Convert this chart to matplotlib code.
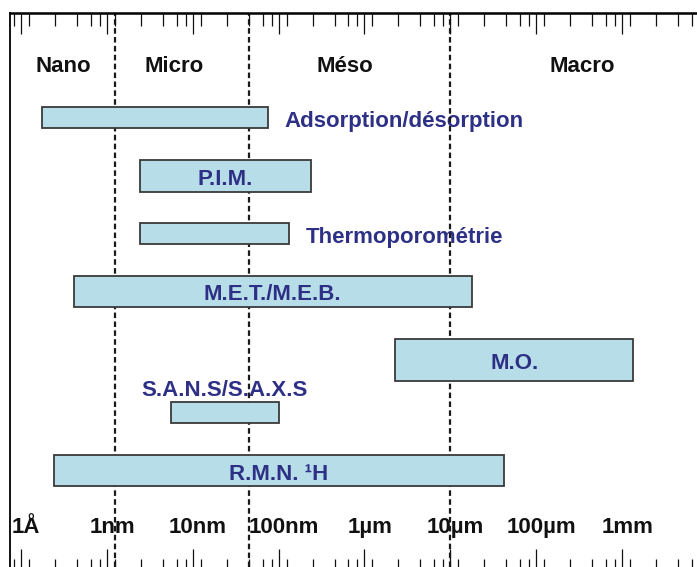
import numpy as np
import matplotlib
matplotlib.use('Agg')
import matplotlib.pyplot as plt

plt.rcParams['font.family'] = ['Liberation Sans', 'DejaVu Sans']
plt.rcParams['font.weight'] = 'bold'

# techniques: domaine de taille (m)
techniques = ['Adsorption/désorption', 'P.I.M.', 'Thermoporométrie', 'M.E.T./M.E.B.',
              'M.O.', 'S.A.N.S/S.A.X.S', 'R.M.N. ¹H']
x_min = [1.76e-10, 2.4e-9, 2.4e-9, 4.1e-10, 2.3e-6, 5.6e-9, 2.4e-10]
x_max = [7.5e-8, 2.4e-7, 1.32e-7, 1.79e-5, 1.34e-3, 1.01e-7, 4.2e-5]

# limites nano / micro / méso / macro
limites = [1.25e-9, 4.5e-8, 1.0e-5]
domaines = ['Nano', 'Micro', 'Méso', 'Macro']
domaines_x = [3.1e-10, 6.05e-9, 5.94e-7, 3.42e-4]

# règle logarithmique
decades = 10.0 ** np.arange(-10, -2)
decade_labels = ['1Å', '1nm', '10nm', '100nm', '1µm', '10µm', '100µm', '1mm']

# mise en page (pixels depuis le haut)
row_y = [117.5, 176, 233.5, 291.5, 360, 412.5, 470.5]
row_h = [21, 32, 21, 31, 42, 21, 31]
label_pos = ['right', 'in', 'right', 'in', 'in', 'above', 'in']

bar_color = '#b7dde8'
text_color = '#2d3085'
fs = 16

W, H = 697, 567
px_dec = 85.86
xl = 1e-10 * 10 ** (-11 / px_dec)
xr = 1e-10 * 10 ** ((W - 21) / px_dec)

fig = plt.figure(figsize=(W / 100, H / 100), dpi=100)
ax = fig.add_axes([10 / W, 0, (W - 10) / W, (H - 12.5) / H])
ax.set_xscale('log')
ax.set_ylim(H, 12.5)

# lignes pointillées
for x in limites:
    ax.axvline(x, color='#1a1a1a', lw=1.6, ls=(0, (2.5, 1.5)), zorder=2)

# barres
for i, name in enumerate(techniques):
    ax.barh(row_y[i], x_max[i] - x_min[i], left=x_min[i], height=row_h[i],
            color=bar_color, edgecolor='#3a3a3a', linewidth=1.3, zorder=3)
    if label_pos[i] == 'in':
        xc = np.sqrt(x_min[i] * x_max[i])
        ax.text(xc, row_y[i] + 9, name, ha='center', va='baseline',
                fontsize=fs, color=text_color, zorder=4)
    elif label_pos[i] == 'right':
        ax.text(x_max[i] * 10 ** (17 / px_dec), row_y[i] + 9, name, ha='left',
                va='baseline', fontsize=fs, color=text_color, zorder=1)
    else:
        xc = np.sqrt(x_min[i] * x_max[i])
        ax.text(xc, row_y[i] - 16.5, name, ha='center', va='baseline',
                fontsize=fs, color=text_color, zorder=1)

# noms des domaines
for x, name in zip(domaines_x, domaines):
    ax.text(x, 72, name, ha='center', va='baseline', fontsize=fs, color='#111111', zorder=1)

# graduations
for d, lab in zip(decades, decade_labels):
    ax.text(d * 10 ** 0.06, 533, lab, ha='center', va='baseline', fontsize=fs,
            color='#111111', zorder=1)

offsets = [-0.186, -0.082, 0.093, 0.396, 0.652]
minor = [d * 10 ** o for d in 10.0 ** np.arange(-11, -1) for o in offsets]
minor = [m for m in minor if xl < m < xr]
majors = [d for d in 10.0 ** np.arange(-10, -1) if xl < d < xr]

ax.set_xticks(majors)
ax.set_xticks(minor, minor=True)
ax.set_xlim(xl, xr)
ax.set_yticks([])
ax.tick_params(axis='x', which='major', direction='in', length=13, width=0.9,
               bottom=True, top=False, labelbottom=False, color='#111111')
ax.tick_params(axis='x', which='minor', direction='in', length=5.5, width=0.9,
               bottom=True, top=False, labelbottom=False, color='#111111')

ax2 = ax.twiny()
ax2.set_xscale('log')
ax2.set_xticks(majors)
ax2.set_xticks(minor, minor=True)
ax2.set_xlim(xl, xr)
ax2.tick_params(axis='x', which='major', direction='in', length=15, width=0.9,
                top=True, bottom=False, labeltop=False, color='#111111')
ax2.tick_params(axis='x', which='minor', direction='in', length=9, width=0.9,
                top=True, bottom=False, labeltop=False, color='#111111')

for s in ['right', 'bottom', 'top']:
    ax.spines[s].set_visible(False)
ax.spines['left'].set_linewidth(1.3)
for s in ['right', 'bottom', 'left']:
    ax2.spines[s].set_visible(False)
ax2.spines['top'].set_linewidth(1.8)

fig.savefig('out.png', dpi=100)
